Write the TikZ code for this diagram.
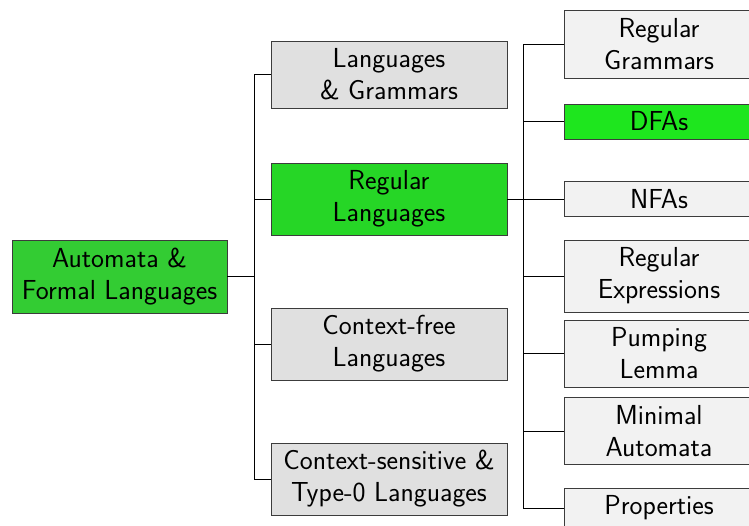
\documentclass[tikz,border=0pt]{standalone}
\usepackage{fontspec}
\begin{document}
\begin{tikzpicture}[x=1pt,y=-1pt,
  box/.style={draw={rgb,255:red,60;green,60;blue,60}, line width=0.9pt, inner sep=0pt, align=center,
    font=\sffamily\fontsize{27.5}{32}\selectfont, text=black},
  lvla/.style={box, minimum width=236pt, fill={rgb,255:red,224;green,224;blue,224}},
  lvlb/.style={box, minimum width=190pt, fill={rgb,255:red,242;green,242;blue,242}},
  conn/.style={draw=black, line width=0.9pt}]
\useasboundingbox (0,0) rectangle (749,526);
\clip (0,0) rectangle (749,526);
\node[box, minimum width=215pt, minimum height=73pt, fill={rgb,255:red,51;green,204;blue,51}] (root) at (119.5,276.5) {Automata \&\\Formal Languages};
\node[lvla, minimum height=67pt] (la) at (389,74.5) {Languages\\\& Grammars};
\node[lvla, minimum height=72pt, fill={rgb,255:red,38;green,214;blue,38}] (lb) at (389,199) {Regular\\Languages};
\node[lvla, minimum height=72pt] (lc) at (389,344) {Context-free\\Languages};
\node[lvla, minimum height=72pt] (ld) at (389,479) {Context-sensitive \&\\Type-0 Languages};
\node[lvlb, minimum height=68pt] (ma) at (659,44) {Regular\\Grammars};
\node[lvlb, minimum height=35pt, fill={rgb,255:red,30;green,230;blue,30}] (mb) at (659,121.5) {DFAs};
\node[lvlb, minimum height=35pt] (mc) at (659,199) {NFAs};
\node[lvlb, minimum height=72pt] (md) at (659,276) {Regular\\Expressions};
\node[lvlb, minimum height=67pt] (me) at (659,353.5) {Pumping\\Lemma};
\node[lvlb, minimum height=67pt] (mf) at (659,431) {Minimal\\Automata};
\node[lvlb, minimum height=40pt] (mg) at (659,508) {Properties};
\coordinate (j1) at (254,276.5);
\coordinate (j2) at (523,199);
\draw[conn] (root.east) -- (j1);
\draw[conn] (la.west) -- (la.west -| j1) -- (ld.west -| j1) -- (ld.west);
\draw[conn] (lb.west) -- (lb.west -| j1);
\draw[conn] (lc.west) -- (lc.west -| j1);
\draw[conn] (lb.east) -- (j2);
\draw[conn] (ma.west) -- (ma.west -| j2) -- (mg.west -| j2) -- (mg.west);
\foreach \n in {mb,mc,md,me,mf} \draw[conn] (\n.west) -- (\n.west -| j2);
\end{tikzpicture}
\end{document}
